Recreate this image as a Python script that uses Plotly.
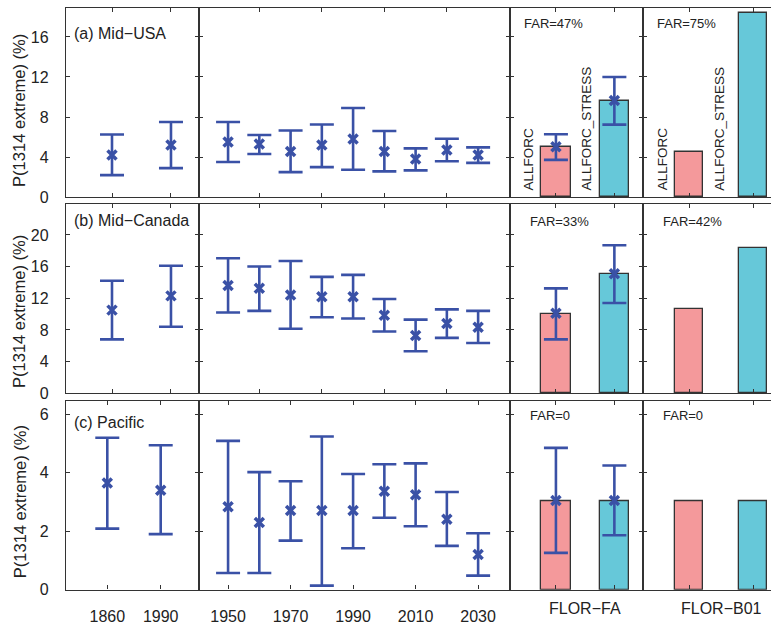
import plotly.graph_objects as go

# ---------------- data ----------------
hist_labels = ["1860", "1990"]
decades = [1950, 1960, 1970, 1980, 1990, 2000, 2010, 2020, 2030]
decade_ticks_ab = [1960, 1980, 2000, 2020]
bar_labels = ["ALLFORC", "ALLFORC_STRESS"]
model_labels = ["FLOR\u2212FA", "FLOR\u2212B01"]
region_labels = ["(a) Mid\u2212USA", "(b) Mid\u2212Canada", "(c) Pacific"]
far_fa = ["FAR=47%", "FAR=33%", "FAR=0"]
far_b01 = ["FAR=75%", "FAR=42%", "FAR=0"]
y_max = [18.9, 23.9, 6.45]
y_ticks = [[0, 4, 8, 12, 16], [0, 4, 8, 12, 16, 20], [0, 2, 4, 6]]

# (a) Mid-USA
usa_hist_mid = [4.2, 5.2]
usa_hist_lo = [2.2, 2.9]
usa_hist_hi = [6.25, 7.5]
usa_dec_mid = [5.5, 5.3, 4.55, 5.2, 5.8, 4.55, 3.8, 4.7, 4.2]
usa_dec_lo = [3.5, 4.3, 2.5, 3.0, 2.73, 2.57, 2.67, 3.58, 3.42]
usa_dec_hi = [7.5, 6.2, 6.65, 7.25, 8.9, 6.6, 4.87, 5.83, 4.97]
usa_fa_bar = [5.0, 9.6]
usa_fa_mid = [5.03, 9.64]
usa_fa_lo = [3.72, 7.24]
usa_fa_hi = [6.28, 12.0]
usa_b01_bar = [4.54, 18.4]

# (b) Mid-Canada
can_hist_mid = [10.5, 12.3]
can_hist_lo = [6.8, 8.4]
can_hist_hi = [14.2, 16.1]
can_dec_mid = [13.6, 13.25, 12.4, 12.2, 12.2, 9.85, 7.3, 8.8, 8.35]
can_dec_lo = [10.2, 10.4, 8.15, 9.6, 9.45, 7.8, 5.3, 7.0, 6.35]
can_dec_hi = [17.05, 16.0, 16.7, 14.7, 14.95, 11.9, 9.3, 10.6, 10.4]
can_fa_bar = [10.0, 15.1]
can_fa_mid = [10.1, 15.1]
can_fa_lo = [6.8, 11.4]
can_fa_hi = [13.25, 18.7]
can_b01_bar = [10.7, 18.3]

# (c) Pacific
pac_hist_mid = [3.65, 3.4]
pac_hist_lo = [2.09, 1.9]
pac_hist_hi = [5.2, 4.94]
pac_dec_mid = [2.84, 2.3, 2.71, 2.71, 2.71, 3.37, 3.25, 2.41, 1.2]
pac_dec_lo = [0.57, 0.57, 1.68, 0.14, 1.42, 2.46, 2.17, 1.5, 0.48]
pac_dec_hi = [5.09, 4.02, 3.71, 5.24, 3.96, 4.29, 4.32, 3.34, 1.93]
pac_fa_bar = [3.03, 3.03]
pac_fa_mid = [3.05, 3.05]
pac_fa_lo = [1.26, 1.86]
pac_fa_hi = [4.85, 4.25]
pac_b01_bar = [3.03, 3.03]

rows = [
    dict(hm=usa_hist_mid, hl=usa_hist_lo, hh=usa_hist_hi, dm=usa_dec_mid, dl=usa_dec_lo, dh=usa_dec_hi,
         fb=usa_fa_bar, fm=usa_fa_mid, fl=usa_fa_lo, fh=usa_fa_hi, bb=usa_b01_bar),
    dict(hm=can_hist_mid, hl=can_hist_lo, hh=can_hist_hi, dm=can_dec_mid, dl=can_dec_lo, dh=can_dec_hi,
         fb=can_fa_bar, fm=can_fa_mid, fl=can_fa_lo, fh=can_fa_hi, bb=can_b01_bar),
    dict(hm=pac_hist_mid, hl=pac_hist_lo, hh=pac_hist_hi, dm=pac_dec_mid, dl=pac_dec_lo, dh=pac_dec_hi,
         fb=pac_fa_bar, fm=pac_fa_mid, fl=pac_fa_lo, fh=pac_fa_hi, bb=pac_b01_bar),
]

# ---------------- style ----------------
W, H = 771, 625
FONT = "Liberation Sans Narrow, Arial Narrow, Liberation Sans, Arial, sans-serif"
TXT = "#222222"
BLUE = "#3a51a6"
PINK = "#f4999b"
CYAN = "#66c8d9"
AXC = "#333333"

col_px = [(66, 199), (199, 510), (510, 643), (643, 771)]
row_px = [(8, 200), (207, 399), (407, 598.3)]
x_ranges_col1 = [[0.22, 2.475], [0.22, 2.475], [0.227, 2.717]]
x_range_col2 = [1940.7, 2040.2]
x_range_col3 = [0.214, 2.49]
x_range_col4 = [0.281, 2.28]


def px(x):
    return x / W


def py(y):
    return 1 - y / H


fig = go.Figure()
layout = dict(
    width=W, height=H, margin=dict(l=0, r=0, t=0, b=0),
    paper_bgcolor="white", plot_bgcolor="white", showlegend=False,
    font=dict(family=FONT, size=16, color=TXT),
    bargap=0,
)
annotations = []


def err(mid, lo, hi):
    return dict(type="data", symmetric=False,
                array=[h - m for h, m in zip(hi, mid)],
                arrayminus=[m - l for m, l in zip(mid, lo)],
                color=BLUE, thickness=2.6, width=12)


marker = dict(symbol="x-thin", size=9, color=BLUE, line=dict(color=BLUE, width=3.5))

for r, d in enumerate(rows):
    for c in range(4):
        n = r * 4 + c + 1
        xa = "xaxis" if n == 1 else f"xaxis{n}"
        ya = "yaxis" if n == 1 else f"yaxis{n}"
        xid = "x" if n == 1 else f"x{n}"
        yid = "y" if n == 1 else f"y{n}"
        common = dict(showline=True, mirror="allticks", linecolor=AXC, linewidth=1.4,
                      ticks="inside", ticklen=4, tickwidth=1.2, tickcolor=AXC,
                      showgrid=False, zeroline=False, fixedrange=True)
        # x axis
        if c == 0:
            xr = x_ranges_col1[r]
            xt = dict(tickvals=[1, 2], ticktext=hist_labels, showticklabels=(r == 2))
        elif c == 1:
            xr = x_range_col2
            if r == 2:
                xt = dict(tickvals=decades[::2], ticktext=[str(v) for v in decades[::2]], showticklabels=True)
            else:
                xt = dict(tickvals=decade_ticks_ab, showticklabels=False)
        elif c == 2:
            xr = x_range_col3
            xt = dict(tickvals=[1, 2], showticklabels=False)
        else:
            xr = x_range_col4
            xt = dict(tickvals=[1, 2], showticklabels=False)
        layout[xa] = dict(common, domain=[px(col_px[c][0]), px(col_px[c][1])], range=xr,
                          anchor=yid, ticklabelstandoff=12, **xt)
        yax = dict(common, domain=[py(row_px[r][1]), py(row_px[r][0])],
                   range=[0, y_max[r]], anchor=xid, tickvals=y_ticks[r],
                   showticklabels=(c == 0), ticklabelstandoff=13)
        if c == 3:
            yax["mirror"] = False
        layout[ya] = yax

        if c == 0:
            fig.add_trace(go.Scatter(x=[1, 2], y=d["hm"], mode="markers", marker=marker,
                                     error_y=err(d["hm"], d["hl"], d["hh"]), xaxis=xid, yaxis=yid))
        elif c == 1:
            fig.add_trace(go.Scatter(x=decades, y=d["dm"], mode="markers", marker=marker,
                                     error_y=err(d["dm"], d["dl"], d["dh"]), xaxis=xid, yaxis=yid))
        elif c == 2:
            fig.add_trace(go.Bar(x=[1, 2], y=d["fb"], width=0.5,
                                 marker=dict(color=[PINK, CYAN], line=dict(color=AXC, width=1.3)),
                                 xaxis=xid, yaxis=yid))
            fig.add_trace(go.Scatter(x=[1, 2], y=d["fm"], mode="markers", marker=marker,
                                     error_y=err(d["fm"], d["fl"], d["fh"]), xaxis=xid, yaxis=yid))
        else:
            fig.add_trace(go.Bar(x=[1, 2], y=d["bb"], width=0.45,
                                 marker=dict(color=[PINK, CYAN], line=dict(color=AXC, width=1.3)),
                                 xaxis=xid, yaxis=yid))

# y-axis titles
for yc in [112, 316, 509]:
    annotations.append(dict(text="P(1314 extreme) (%)", x=px(19.5), y=py(yc), xref="paper", yref="paper",
                            textangle=-90, showarrow=False, xanchor="center", yanchor="middle",
                            font=dict(size=16.5)))

# region labels
for lab, yc in zip(region_labels, [34, 224, 429]):
    annotations.append(dict(text=lab, x=px(72), y=py(yc), xref="paper", yref="paper",
                            showarrow=False, xanchor="left", yanchor="middle", font=dict(size=16)))

# FAR labels
far_pos = [(522, 654.7, 24), (528, 661, 224.7), (528, 661, 421.7)]
for r in range(3):
    x3, x4, yc = far_pos[r]
    annotations.append(dict(text=far_fa[r], x=px(x3), y=py(yc), xref="paper", yref="paper",
                            showarrow=False, xanchor="left", yanchor="middle", font=dict(size=13)))
    annotations.append(dict(text=far_b01[r], x=px(x4), y=py(yc), xref="paper", yref="paper",
                            showarrow=False, xanchor="left", yanchor="middle", font=dict(size=13)))

# rotated bar labels in row (a)
for xid, xs in [("x3", [0.53, 1.53]), ("x4", [0.58, 1.47])]:
    for lab, xv in zip(bar_labels, xs):
        annotations.append(dict(text=lab, x=xv, y=0.45, xref=xid, yref="y3",
                                textangle=-90, showarrow=False, xanchor="center", yanchor="bottom",
                                font=dict(size=13.5)))

# model labels under bottom row
for lab, xid in zip(model_labels, ["x11", "x12"]):
    annotations.append(dict(text=lab, x=1.5, y=py(617), xref=xid, yref="paper",
                            showarrow=False, xanchor="center", yanchor="middle", font=dict(size=16)))

layout["annotations"] = annotations
fig.update_layout(**layout)
fig.write_html("out.html", config={"displayModeBar": False},
               post_script="document.body.style.margin='0';")
